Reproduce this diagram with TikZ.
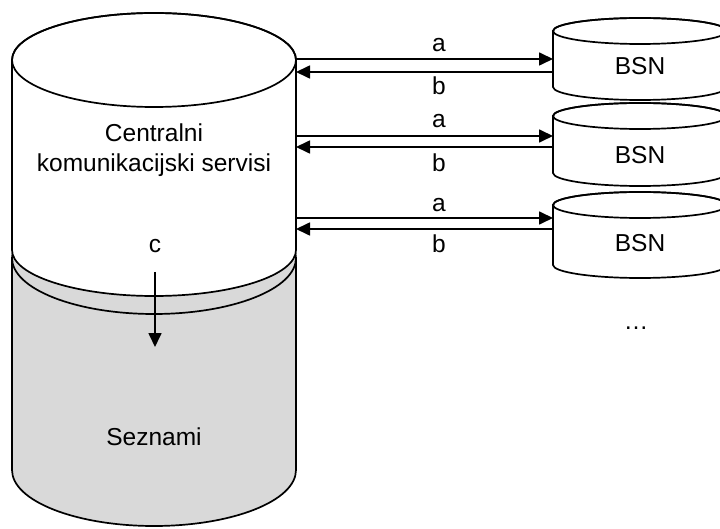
\documentclass[tikz,border=0pt]{standalone}
\usepackage{fontspec}
\setmainfont{Liberation Sans}
\usetikzlibrary{arrows.meta}
\definecolor{listgray}{HTML}{D9D9D9}
\begin{document}
\begin{tikzpicture}[x=1pt,y=-1pt,line width=1.7pt,
  lbl/.style={font=\fontsize{24.5}{28}\selectfont,inner sep=0pt,anchor=base},
  flow/.style={-{Triangle[length=14pt,width=13pt]}},
  outline/.style={draw=black,line width=1.7pt}]

\useasboundingbox (0,0) rectangle (720,529);

% grey store: Seznami
\path[outline,fill=listgray] (12,258) -- (12,470)
  arc[start angle=180,end angle=0,x radius=142,y radius=56] -- (296,258)
  arc[start angle=0,end angle=-180,x radius=142,y radius=56] -- cycle;
\draw (12,258) arc[start angle=180,end angle=0,x radius=142,y radius=56];

% white store: central services
\path[outline,fill=white] (12,60) -- (12,250)
  arc[start angle=180,end angle=0,x radius=142,y radius=46] -- (296,60)
  arc[start angle=0,end angle=-180,x radius=142,y radius=47] -- cycle;
\draw (154,60) ellipse[x radius=142,y radius=47];

% BSN stores
\foreach \t/\b in {31/87,116/173,205/265}{
  \path[outline,fill=white] (553,\t) -- (553,\b)
    arc[start angle=180,end angle=0,x radius=87,y radius=13] -- (727,\t)
    arc[start angle=0,end angle=-180,x radius=87,y radius=13] -- cycle;
  \draw (640,\t) ellipse[x radius=87,y radius=13];
}

% labels
\node[lbl] (cks1) at (154,141.7) {Centralni};
\node[lbl] (cks2) at (154,171.7) {komunikacijski servisi};
\node[lbl] (sez) at (154,445) {Seznami};
\node[lbl] (bsn1) at (640,75) {BSN};
\node[lbl] (bsn2) at (640,164) {BSN};
\node[lbl] (bsn3) at (640,252) {BSN};
\node[lbl] (more) at (636,329) {…};

% request / response pairs
\foreach \i/\ya/\yb/\la/\lb in {1/59/72/52/95, 2/136/147/128/172, 3/218/229/212/253}{
  \coordinate (cL\i a) at (296,\ya);
  \coordinate (bR\i a) at (553,\ya);
  \coordinate (cL\i b) at (296,\yb);
  \coordinate (bR\i b) at (553,\yb);
  \draw[flow] (cL\i a) -- (bR\i a);
  \draw[flow] (bR\i b) -- (cL\i b);
  \node[lbl] (la\i) at (439,\la) {a};
  \node[lbl] (lb\i) at (439,\lb) {b};
}

% lookup into the lists
\node[lbl] (lc) at (155,253) {c};
\coordinate (cs) at (155,272);
\coordinate (ce) at (155,347);
\draw[flow] (cs) -- (ce);
\end{tikzpicture}
\end{document}
